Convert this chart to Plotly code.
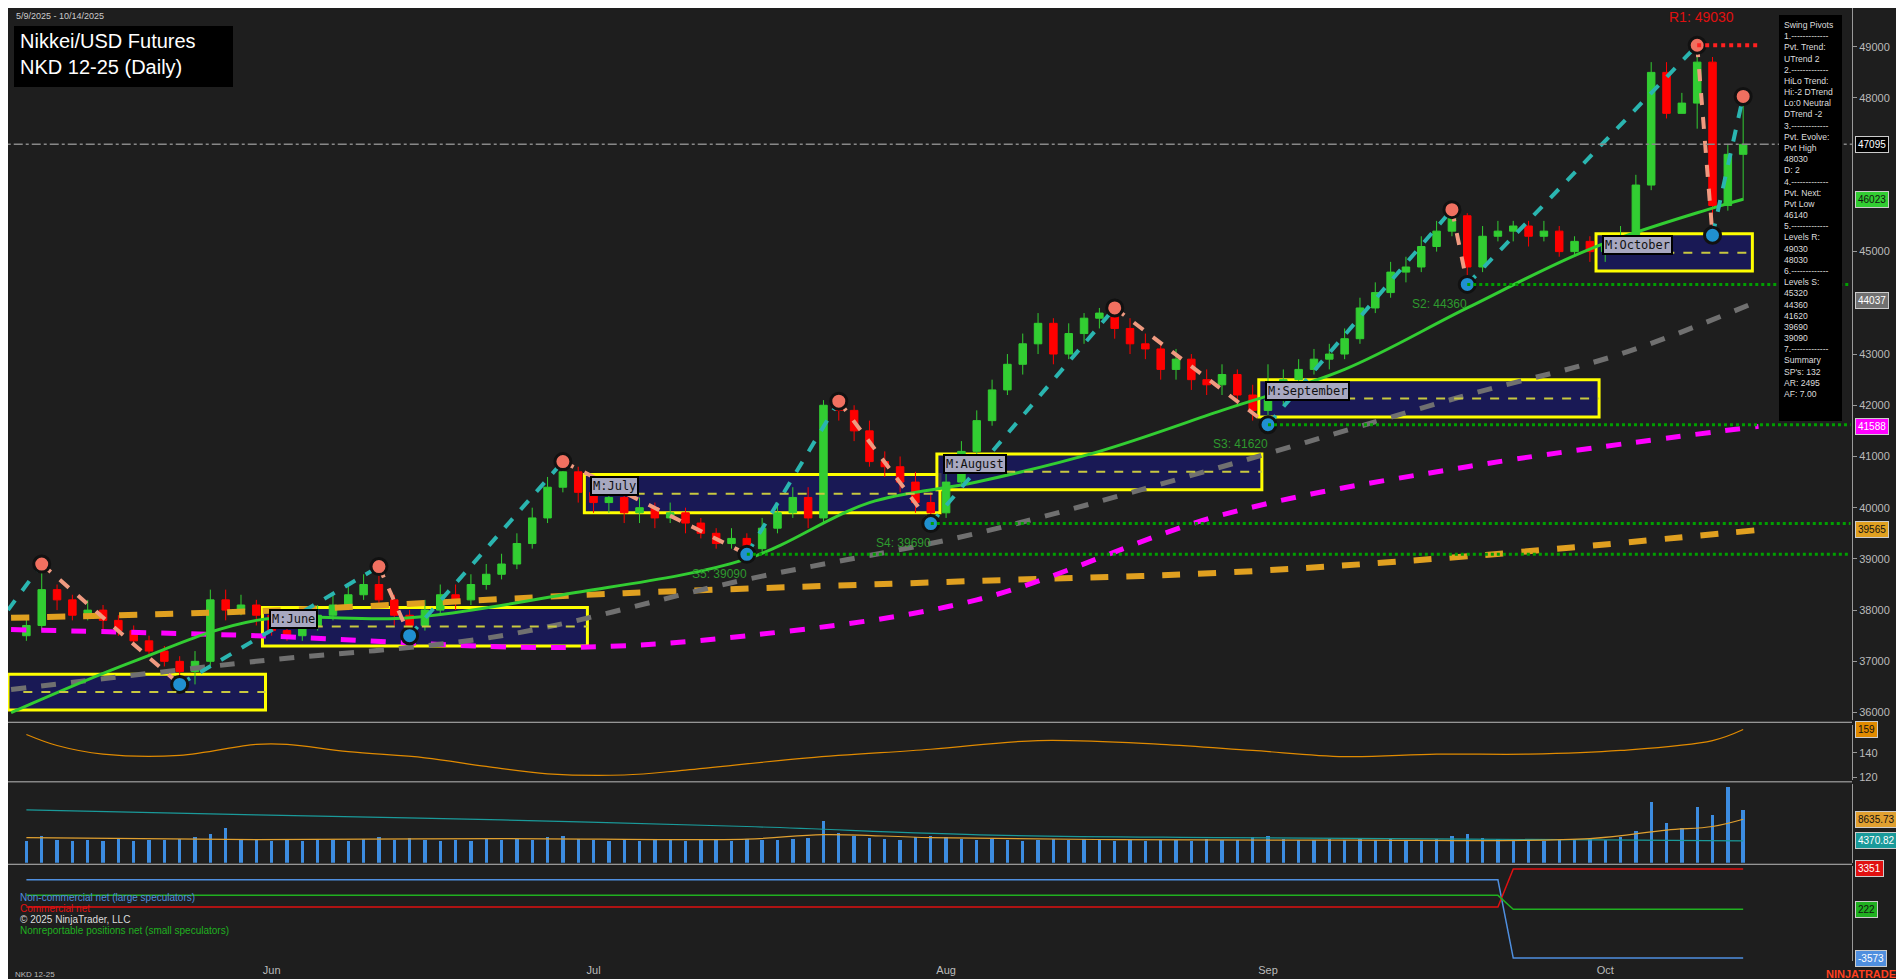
import numpy as np
import pandas as pd
import plotly.graph_objects as go
from plotly.subplots import make_subplots

# ---------------- data ----------------
closes = [37700,38400,38200,37900,38000,37800,37600,37400,37200,37000,36800,37000,38200,38000,38100,37900,
          37600,37500,37700,37900,38100,38300,38500,38200,37900,37700,38000,38300,38200,38500,38700,38900,39300,39800,40400,40700,
          40300,40100,40200,39900,40000,39800,39900,39700,39500,39300,39400,39200,39600,39900,40200,39800,42000,41900,41500,40900,40800,40500,40100,39900,
          40500,41100,41700,42300,42800,43200,43600,43000,43400,43700,43800,43500,43200,43100,42700,42900,42500,42400,42600,42200,41900,
          42100,42500,42700,42900,43000,43300,43900,44200,44600,44700,45100,45400,45700,44700,45300,45400,45500,45300,45400,45000,45200,45000,
          45100,45300,46300,48500,47700,47900,48700,45900,46900,47095]
highs = [37900,38900,38500,38300,38200,38100,37900,37700,37500,37300,37100,37200,38400,38400,38300,38200,
         38000,37800,37900,38100,38300,38500,38700,38850,38300,38000,38200,38500,38500,38700,38900,39100,39500,40000,40600,40900,
         40800,40500,40400,40300,40200,40100,40100,40000,39800,39600,39600,39500,39800,40100,40400,40400,42100,42080,42000,41700,41100,41000,40700,40300,
         40700,41300,41900,42500,43000,43400,43800,43700,43600,43800,43900,43900,43700,43400,43200,43100,43000,42700,42800,42700,42400,
         42800,42700,42900,43100,43200,43500,44100,44400,44800,44900,45300,45600,45820,45750,45500,45600,45600,45600,45600,45500,45300,45300,
         45300,45500,46500,48700,48700,48100,49030,48800,47100,48030]
lows = [37400,37600,38000,37800,37800,37600,37500,37300,37100,36900,36600,36550,36900,37800,37900,37700,
        37500,37400,37400,37600,37800,38000,38200,38100,37700,37500,37600,37900,38000,38100,38400,38600,38800,39200,39700,40300,
        40100,39900,39900,39700,39700,39600,39700,39500,39400,39200,39200,39090,39100,39500,39800,39600,39700,41700,41300,40800,40600,40300,39900,39690,
        39800,40400,41000,41600,42200,42600,43000,42800,42900,43200,43500,43300,43000,42900,42500,42500,42300,42200,42200,42000,41700,
        41620,42000,42400,42600,42700,42900,43200,43800,44100,44400,44600,45000,45300,44360,44600,45200,45200,45100,45200,44900,44900,44800,
        44800,45000,45200,46200,47600,47700,47400,45320,45800,46000]
volumes = [4300,5200,4600,4400,4500,4300,4700,4400,4600,4500,4800,5000,5600,6800,4800,4500,
           4400,4600,4300,4700,4500,4400,4800,5000,4600,4900,4500,4300,4600,4400,4700,4500,4800,4600,5100,5300,
           4700,4500,4400,4600,4300,4500,4700,4400,4600,4500,4400,4800,4600,4500,4700,4900,8200,5800,5200,4900,4700,4600,5000,5300,
           5100,4800,4600,4700,4500,4400,4600,4800,4500,4700,4600,4400,4500,4300,4600,4500,4400,4700,4500,4600,5000,
           5200,4800,4600,4500,4700,4600,4800,4500,4700,4400,4600,4800,5200,5600,4900,4700,4500,4600,4400,4700,4500,4800,
           4600,5000,6200,12000,7800,6900,11000,9500,15000,10500]

# moving averages sampled at bar indexes
ma_idx = [-1, 7, 15, 25, 35, 47, 55, 62, 70, 78, 86, 94, 102, 110, 112]
ma_fast = [36000, 37000, 37800, 37850, 38300, 39000, 40100, 40500, 41100, 41900, 42700, 43900, 45050, 45850, 46023]
ma_gray_idx = [-1, 15, 31, 47, 62, 78, 94, 104, 113]
ma_gray = [36450, 37000, 37500, 38600, 39500, 40800, 42200, 43000, 44037]
ma_mag_idx = [-1, 15, 35, 47, 62, 78, 94, 113]
ma_mag = [37620, 37500, 37270, 37500, 38200, 39860, 40800, 41588]
ma_org_idx = [-1, 15, 39, 62, 78, 94, 113]
ma_org = [37850, 37980, 38330, 38570, 38730, 39050, 39565]

pivot_idx = [1, 10, 23, 25, 35, 47, 53, 59, 71, 81, 93, 94, 109, 110, 112]
pivot_val = [38900, 36550, 38850, 37500, 40900, 39090, 42080, 39690, 43900, 41620, 45820, 44360, 49030, 45320, 48030]
pivot_type = ["H", "L", "H", "L", "H", "L", "H", "L", "H", "L", "H", "L", "H", "L", "H"]

month_names = ["May", "June", "July", "August", "September", "October"]
month_top = [36750, 38050, 40650, 41050, 42500, 45350]
month_mid = [36400, 37680, 40270, 40700, 42130, 44980]
month_bot = [36050, 37300, 39900, 40350, 41770, 44620]

support_names = ["S2", "S3", "S4", "S5"]
support_vals = [44360, 41620, 39690, 39090]
support_from = [94, 81, 59, 47]
r1_val = 49030
last_price = 47095
price_ticks = [36000, 37000, 38000, 39000, 40000, 41000, 42000, 43000, 45000, 48000, 49000]

osc_idx = [0, 2, 5, 10, 15, 17, 21, 26, 30, 34, 39, 43, 51, 59, 66, 74, 80, 86, 92, 98, 104, 110, 112]
osc_val = [155, 146, 139, 138, 147, 147, 141, 136, 129, 123, 122, 126, 136, 143, 150, 147, 142, 137, 139, 139, 142, 150, 159]
vol_teal_idx = [0, 15, 31, 47, 63, 78, 94, 112]
vol_teal = [10500, 9500, 8500, 7200, 5500, 5000, 4700, 4370.82]
vol_org_idx = [0, 15, 31, 47, 52, 59, 71, 86, 102, 107, 110, 112]
vol_org = [5000, 4600, 4800, 4700, 5600, 5000, 4600, 4500, 4800, 6500, 7200, 8635.73]

cot_idx = [0, 96, 97, 112]
cot_noncomm = [2500, 2500, -3573, -3573]
cot_comm = [390, 390, 3351, 3351]
cot_small = [1300, 1300, 222, 222]

# ---------------- figure ----------------
dates = pd.bdate_range("2025-05-09", "2025-10-14")[:len(closes)]
n = len(closes)
x = np.arange(n)
opens = [37500] + closes[:-1]

fig = make_subplots(rows=4, cols=1, shared_xaxes=True)
BG = "#1e1e1e"

fig.add_trace(go.Candlestick(x=x, open=opens, high=highs, low=lows, close=closes,
                             increasing=dict(line=dict(color="#32CD32", width=1), fillcolor="#32CD32"),
                             decreasing=dict(line=dict(color="#ff0000", width=1), fillcolor="#ff0000"),
                             whiskerwidth=0, showlegend=False), row=1, col=1)

fig.add_trace(go.Scatter(x=ma_org_idx, y=ma_org, mode="lines", line=dict(color="#e0a020", width=6, dash="dash"),
                         line_shape="spline", showlegend=False), row=1, col=1)
fig.add_trace(go.Scatter(x=ma_mag_idx, y=ma_mag, mode="lines", line=dict(color="#ff00ff", width=5, dash="dash"),
                         line_shape="spline", showlegend=False), row=1, col=1)
fig.add_trace(go.Scatter(x=ma_gray_idx, y=ma_gray, mode="lines", line=dict(color="#707070", width=5, dash="dash"),
                         line_shape="spline", showlegend=False), row=1, col=1)
fig.add_trace(go.Scatter(x=ma_idx, y=ma_fast, mode="lines", line=dict(color="#32CD32", width=3),
                         line_shape="spline", showlegend=False), row=1, col=1)

# month boxes
mi = pd.Series(x, index=dates)
for k, m in enumerate([5, 6, 7, 8, 9, 10]):
    sel = mi[mi.index.month == m]
    x0, x1 = sel.min() - 0.6, sel.max() + 0.6
    if k == 0:
        x0 = -1.2
    fig.add_shape(type="rect", x0=x0, x1=x1, y0=month_bot[k], y1=month_top[k], xref="x", yref="y",
                  fillcolor="rgba(25,25,95,0.85)", line=dict(color="#ffff00", width=3), layer="below")
    fig.add_shape(type="line", x0=x0 + 1, x1=x1, y0=month_mid[k], y1=month_mid[k], xref="x", yref="y",
                  line=dict(color="#c8c840", width=2, dash="dash"))
    if k > 0:
        fig.add_annotation(x=x0 + 0.4, y=month_mid[k] + 150, xref="x", yref="y", text="M:" + month_names[k],
                           showarrow=False, xanchor="left", font=dict(family="DejaVu Sans Mono", size=12, color="#111"),
                           bgcolor="#a8a8c0", bordercolor="#000", borderwidth=2, borderpad=1)

# support / resistance
for name, v, f in zip(support_names, support_vals, support_from):
    fig.add_shape(type="line", x0=f, x1=119, y0=v, y1=v, xref="x", yref="y",
                  line=dict(color="#00a000", width=3, dash="dot"))
    fig.add_annotation(x=f - 1.8, y=v - 380, xref="x", yref="y", text=f"{name}: {v}", showarrow=False,
                       font=dict(color="#2e9a2e", size=12, family="Arial"))
fig.add_shape(type="line", x0=109, x1=113, y0=r1_val, y1=r1_val, xref="x", yref="y",
              line=dict(color="#ff2020", width=4, dash="dot"))
fig.add_annotation(x=109.3, y=r1_val + 350, xref="x", yref="y", text=f"R1: {r1_val}", showarrow=False,
                   yanchor="bottom", font=dict(color="#e01010", size=14, family="Arial"))
fig.add_shape(type="line", x0=-2, x1=119.1, y0=last_price, y1=last_price, xref="x", yref="y",
              line=dict(color="#888", width=1.5, dash="dashdot"))

# swing pivot legs
for a in range(len(pivot_idx) - 1):
    up = pivot_type[a] == "L"
    fig.add_trace(go.Scatter(x=[pivot_idx[a], pivot_idx[a + 1]], y=[pivot_val[a], pivot_val[a + 1]], mode="lines",
                             line=dict(color="#2ab5b0" if up else "#f09a80", width=4, dash="dash"),
                             showlegend=False), row=1, col=1)
fig.add_trace(go.Scatter(x=[-1.2, pivot_idx[0]], y=[38000, pivot_val[0]], mode="lines",
                         line=dict(color="#2ab5b0", width=4, dash="dash"), showlegend=False), row=1, col=1)
hx = [i for i, t in zip(pivot_idx, pivot_type) if t == "H"]
hy = [v for v, t in zip(pivot_val, pivot_type) if t == "H"]
lx = [i for i, t in zip(pivot_idx, pivot_type) if t == "L"]
ly = [v for v, t in zip(pivot_val, pivot_type) if t == "L"]
fig.add_trace(go.Scatter(x=hx, y=hy, mode="markers", marker=dict(size=16, color="#f07060", line=dict(color="#111", width=3)),
                         showlegend=False), row=1, col=1)
fig.add_trace(go.Scatter(x=lx, y=ly, mode="markers", marker=dict(size=16, color="#2090d0", line=dict(color="#111", width=3)),
                         showlegend=False), row=1, col=1)

# lower panels
fig.add_trace(go.Scatter(x=osc_idx, y=osc_val, mode="lines", line=dict(color="#e08a00", width=1.2),
                         line_shape="spline", showlegend=False), row=2, col=1)
fig.add_trace(go.Bar(x=x, y=volumes, marker=dict(color="#3c8ce0", line=dict(width=0)), width=0.22,
                     showlegend=False), row=3, col=1)
fig.add_trace(go.Scatter(x=vol_teal_idx, y=vol_teal, mode="lines", line=dict(color="#1a9a9a", width=1.2),
                         line_shape="spline", showlegend=False), row=3, col=1)
fig.add_trace(go.Scatter(x=vol_org_idx, y=vol_org, mode="lines", line=dict(color="#e0a030", width=1.2),
                         line_shape="spline", showlegend=False), row=3, col=1)
fig.add_trace(go.Scatter(x=cot_idx, y=cot_noncomm, mode="lines", line=dict(color="#4f8fdf", width=1.5), showlegend=False), row=4, col=1)
fig.add_trace(go.Scatter(x=cot_idx, y=cot_comm, mode="lines", line=dict(color="#e01010", width=1.5), showlegend=False), row=4, col=1)
fig.add_trace(go.Scatter(x=cot_idx, y=cot_small, mode="lines", line=dict(color="#20b020", width=1.5), showlegend=False), row=4, col=1)

# axes
month_starts = [int(mi[mi.index.month == m].min()) for m in [6, 7, 8, 9, 10]]
ax_common = dict(showgrid=False, zeroline=False, showline=False, range=[-1.2, 119.1])
for r in range(1, 5):
    fig.update_xaxes(ax_common, row=r, col=1, rangeslider_visible=False, showticklabels=(r == 4))
fig.update_xaxes(tickvals=month_starts, ticktext=["Jun", "Jul", "Aug", "Sep", "Oct"],
                 tickfont=dict(color="#bbb", size=11), ticks="", ticklabelstandoff=1, row=4, col=1)
yc = dict(showgrid=False, zeroline=False, side="right", tickfont=dict(color="#bbb", size=11), ticks="outside",
          ticklen=4, tickcolor="#999", showline=True, linecolor="#999", tickformat="d")
fig.update_yaxes(yc, range=[35864, 49757], tickvals=price_ticks, row=1, col=1)
fig.update_yaxes(yc, range=[118, 163], tickvals=[120, 140], row=2, col=1)
fig.update_yaxes(yc, range=[0, 15600], showticklabels=False, ticks="", row=3, col=1)
fig.update_yaxes(yc, range=[-3800, 3600], showticklabels=False, ticks="", row=4, col=1)

fig.update_layout(
    width=1904, height=979, paper_bgcolor=BG, plot_bgcolor=BG,
    margin=dict(l=0, r=60, t=0, b=26), showlegend=False, bargap=0,
    yaxis=dict(domain=[0.2534, 1.0]), yaxis2=dict(domain=[0.19, 0.248]),
    yaxis3=dict(domain=[0.103, 0.1856]), yaxis4=dict(domain=[0.0, 0.1]),
    font=dict(family="Arial"),
)

# separators
for yy in [0.2505, 0.188, 0.1015]:
    fig.add_shape(type="line", xref="paper", yref="paper", x0=0, x1=1, y0=yy, y1=yy, line=dict(color="#bbb", width=1))

# price tags
def tag(y, yref, text, bg, fg):
    fig.add_annotation(x=1.0, xref="paper", y=y, yref=yref, text=text, showarrow=False, xanchor="left", xshift=3,
                       font=dict(color=fg, size=10), bgcolor=bg, bordercolor="#ccc", borderwidth=1, borderpad=2)
tag(47095, "y", "47095", "#000", "#fff")
tag(46023, "y", "46023", "#32CD32", "#111")
tag(44037, "y", "44037", "#707070", "#fff")
tag(41588, "y", "41588", "#ff00ff", "#fff")
tag(39565, "y", "39565", "#e0a020", "#111")
tag(159, "y2", "159", "#e08a00", "#111")
tag(8635.73, "y3", "8635.73", "#e0a030", "#111")
tag(4370.82, "y3", "4370.82", "#1a9a9a", "#fff")
tag(3351, "y4", "3351", "#e01010", "#fff")
tag(222, "y4", "222", "#20b020", "#111")
tag(-3573, "y4", "-3573", "#4f8fdf", "#fff")

H = 953.0
# info panel
info = ["Swing Pivots", "1.-------------", "Pvt. Trend:", "UTrend 2", "2.-------------", "HiLo Trend:",
        "Hi:-2 DTrend", "Lo:0 Neutral", "DTrend -2", "3.-------------", "Pvt. Evolve:", "Pvt High", "48030", "D: 2",
        "4.-------------", "Pvt. Next:", "Pvt Low", "46140", "5.-------------", "Levels R:", "49030", "48030",
        "6.-------------", "Levels S:", "45320", "44360", "41620", "39690", "39090", "7.-------------", "Summary",
        "SP's: 132", "AR: 2495", "AF: 7.00"]
fig.add_shape(type="rect", xref="paper", yref="paper", x0=1771 / 1844, x1=1834 / 1844, y0=1 - 413 / H, y1=1 - 7 / H,
              fillcolor="#000", line=dict(width=0))
fig.add_annotation(x=1774 / 1844, y=1 - 10 / H, xref="paper", yref="paper", text="<br>".join(info), showarrow=False,
                   xanchor="left", yanchor="top", align="left", font=dict(color="#ddd", size=8.6))

# title
fig.add_shape(type="rect", xref="paper", yref="paper", x0=6 / 1844, x1=225 / 1844, y0=1 - 79 / H, y1=1 - 18 / H,
              fillcolor="#000", line=dict(width=0))
fig.add_annotation(x=10 / 1844, y=1 - 20 / H, xref="paper", yref="paper",
                   text="Nikkei/USD Futures<br>NKD 12-25 (Daily)", showarrow=False, xanchor="left", yanchor="top",
                   align="left", font=dict(color="#fff", size=20))
fig.add_annotation(x=6 / 1844, y=1 - 1 / H, xref="paper", yref="paper", text="5/9/2025 - 10/14/2025", showarrow=False,
                   xanchor="left", yanchor="top", font=dict(color="#ccc", size=9))

# COT legend texts
for txt, col, yy in [("Non-commercial net (large speculators)", "#4f8fdf", 889), ("Commercial net", "#e01010", 900),
                     ("© 2025 NinjaTrader, LLC", "#ddd", 911), ("Nonreportable positions net (small speculators)", "#20b020", 922)]:
    fig.add_annotation(x=10 / 1844, y=1 - yy / H, xref="paper", yref="paper", text=txt, showarrow=False,
                       xanchor="left", yanchor="middle", font=dict(color=col, size=10))

fig.add_annotation(x=5 / 1844, y=-13 / H, xref="paper", yref="paper", text="NKD 12-25", showarrow=False,
                   xanchor="left", yanchor="middle", font=dict(color="#bbb", size=8))
fig.add_annotation(x=1898 / 1844, y=-13 / H, xref="paper", yref="paper", text="<b>NINJATRADER</b>", showarrow=False,
                   xanchor="right", yanchor="middle", font=dict(color="#ff4020", size=11))

fig.write_html("out.html")
